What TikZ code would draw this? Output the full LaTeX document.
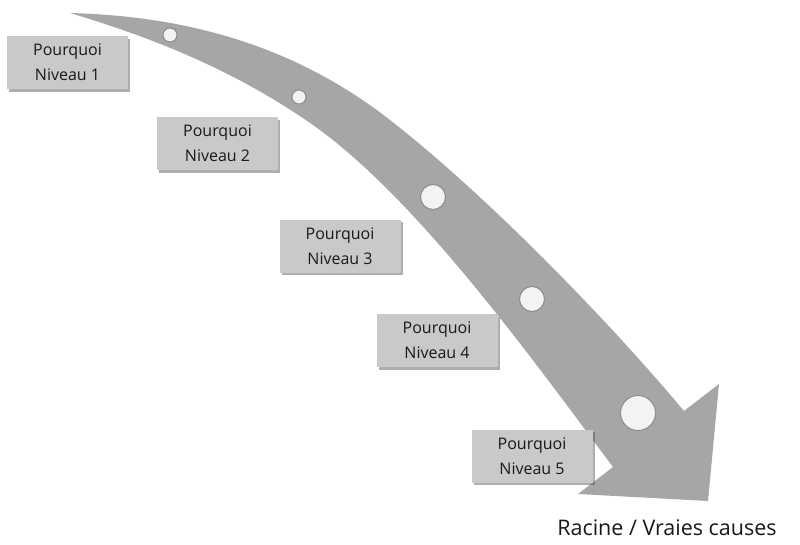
\documentclass[tikz,border=0pt]{standalone}
\usepackage{fontspec}
\setmainfont{Open Sans}
\usetikzlibrary{shadows}
\definecolor{arrowgray}{RGB}{166,166,166}
\definecolor{boxgray}{RGB}{201,201,201}
\definecolor{dotfill}{RGB}{243,243,243}
\definecolor{dotline}{RGB}{140,140,140}
\definecolor{textcol}{RGB}{25,25,25}
\begin{document}
\begin{tikzpicture}[x=1pt,y=-1pt,
  whybox/.style={draw=none, fill=boxgray, minimum width=121pt, minimum height=53pt,
    inner sep=0pt, align=center, text=textcol, font=\fontsize{16}{25}\selectfont,
    drop shadow={shadow xshift=2pt, shadow yshift=-2.5pt, opacity=0.45, fill=black!70}},
  stepdot/.style={circle, fill=dotfill, draw=dotline, line width=1pt, inner sep=0pt},
  rootlabel/.style={text=textcol, font=\fontsize{21.5}{26}\selectfont, inner sep=0pt, anchor=base}
]
\useasboundingbox (0,0) rectangle (800,544);
\fill[white] (0,0) rectangle (800,544);
% curved arrow
\fill[arrowgray] (70,13) .. controls (180,16) and (290,42) .. (390,120)
  .. controls (485,194) and (607,319) .. (684,411)
  -- (719,384) -- (708,501) -- (578,494) -- (613,467)
  .. controls (535,363) and (419,200) .. (313,125)
  .. controls (233,69) and (150,37) .. (70,13) -- cycle;
% dots
\node[stepdot, minimum size=14pt] (d1) at (170,35) {};
\node[stepdot, minimum size=14pt] (d2) at (299,97) {};
\node[stepdot, minimum size=25pt] (d3) at (433,197) {};
\node[stepdot, minimum size=25pt] (d4) at (532,299) {};
\node[stepdot, minimum size=35pt] (d5) at (638,413) {};
% boxes
\node[whybox] (b1) at (67.5,62.5) {Pourquoi\\Niveau 1};
\node[whybox] (b2) at (217.5,143.5) {Pourquoi\\Niveau 2};
\node[whybox] (b3) at (340,246) {Pourquoi\\Niveau 3};
\node[whybox] (b4) at (437,340.5) {Pourquoi\\Niveau 4};
\node[whybox] (b5) at (532,456) {Pourquoi\\Niveau 5};
% label
\node[rootlabel] (root) at (667,535) {Racine / Vraies causes};
\end{tikzpicture}
\end{document}
